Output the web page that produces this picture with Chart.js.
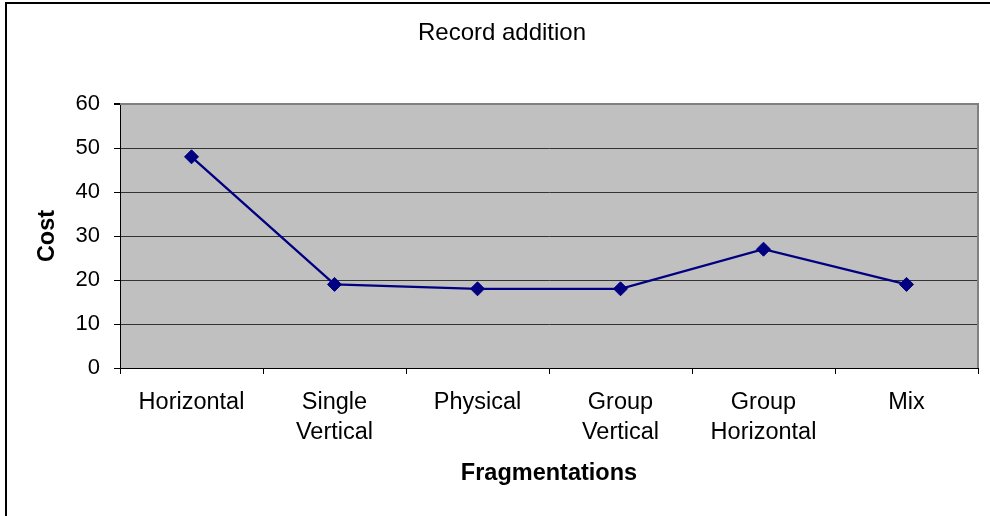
<!DOCTYPE html>
<html>
<head>
<meta charset="utf-8">
<title>Record addition</title>
<script src="https://cdn.jsdelivr.net/npm/chart.js@4.4.1/dist/chart.umd.min.js"></script>
<style>
  html, body { margin: 0; padding: 0; background: #fff; }
  #wrap { width: 990px; height: 516px; }
</style>
</head>
<body>
<div id="wrap"><canvas id="chart" width="990" height="516"></canvas></div>
<script>
// Cost of adding a record under each fragmentation scheme
const categories = [
  'Horizontal',
  ['Single', 'Vertical'],
  'Physical',
  ['Group', 'Vertical'],
  ['Group', 'Horizontal'],
  'Mix'
];
const costValues = [48, 19, 18, 18, 27, 19];
const yTicks = { min: 0, max: 60, step: 10 };

const FONT = "'Liberation Sans', Arial, Helvetica, sans-serif";

// Page frame, grey plot background and the shaded top/right plot edges
const framePlugin = {
  id: 'frame',
  beforeDraw(chart) {
    const { ctx, chartArea: a, width, height } = chart;
    ctx.save();
    ctx.fillStyle = '#ffffff';
    ctx.fillRect(0, 0, width, height);
    ctx.fillStyle = '#c0c0c0';
    ctx.fillRect(a.left, a.top, a.right - a.left, a.bottom - a.top);
    // outer frame: top and left edges
    ctx.fillStyle = '#000000';
    ctx.fillRect(5, 2, width - 5, 2);
    ctx.fillRect(5, 2, 2, height - 2);
    ctx.restore();
  },
  beforeDatasetsDraw(chart) {
    const { ctx, chartArea: a } = chart;
    ctx.save();
    ctx.strokeStyle = '#808080';
    ctx.lineWidth = 2;
    ctx.beginPath();
    ctx.moveTo(a.left, a.top);
    ctx.lineTo(a.right, a.top);
    ctx.lineTo(a.right, a.bottom);
    ctx.stroke();
    ctx.restore();
  }
};

Chart.defaults.color = '#000000';
Chart.defaults.font.family = FONT;

new Chart(document.getElementById('chart'), {
  type: 'line',
  data: {
    labels: categories,
    datasets: [{
      label: 'Cost',
      data: costValues,
      borderColor: '#000080',
      backgroundColor: '#000080',
      borderWidth: 2.3,
      pointStyle: 'rectRot',
      pointRadius: 7,
      pointBorderWidth: 1,
      pointBorderColor: '#000080',
      pointBackgroundColor: '#000080',
      tension: 0,
      fill: false
    }]
  },
  options: {
    responsive: false,
    animation: false,
    events: [],
    layout: { padding: { left: 26, right: 12, top: 0, bottom: 0 }, autoPadding: false },
    plugins: {
      legend: { display: false },
      tooltip: { enabled: false },
      title: {
        display: true,
        text: 'Record addition',
        color: '#000000',
        font: { family: FONT, size: 24, weight: 'normal', lineHeight: 1.2 },
        padding: { top: 19, bottom: 56.2 }
      }
    },
    scales: {
      x: {
        type: 'category',
        offset: true,
        grid: {
          offset: true,
          drawOnChartArea: false,
          drawTicks: true,
          tickLength: 6,
          color: '#000000',
          tickColor: '#000000'
        },
        border: { display: true, color: '#000000', width: 1 },
        ticks: {
          autoSkip: false,
          maxRotation: 0,
          minRotation: 0,
          padding: 13,
          color: '#000000',
          font: { family: FONT, size: 23.5, lineHeight: 1.28 }
        },
        title: {
          display: true,
          text: 'Fragmentations',
          color: '#000000',
          font: { family: FONT, size: 23.5, weight: 'bold', lineHeight: 1.2 },
          padding: { top: 0, bottom: 28 }
        },
        afterFit(scale) { scale.height = 148; }
      },
      y: {
        min: yTicks.min,
        max: yTicks.max,
        grid: {
          drawTicks: true,
          tickLength: 6,
          color: (c) => (c.tick && c.tick.value === yTicks.max) ? '#808080' : '#333333',
          lineWidth: (c) => (c.tick && c.tick.value === yTicks.max) ? 2 : 1,
          tickColor: '#000000'
        },
        border: { display: true, color: '#000000', width: 1 },
        ticks: {
          stepSize: yTicks.step,
          padding: 14,
          color: '#000000',
          font: { family: FONT, size: 22 }
        },
        title: {
          display: true,
          text: 'Cost',
          color: '#000000',
          font: { family: FONT, size: 23.5, weight: 'bold', lineHeight: 1.2 },
          padding: { top: 7, bottom: 0 }
        },
        afterFit(scale) { scale.width = 94; }
      }
    }
  },
  plugins: [framePlugin]
});
</script>
</body>
</html>
